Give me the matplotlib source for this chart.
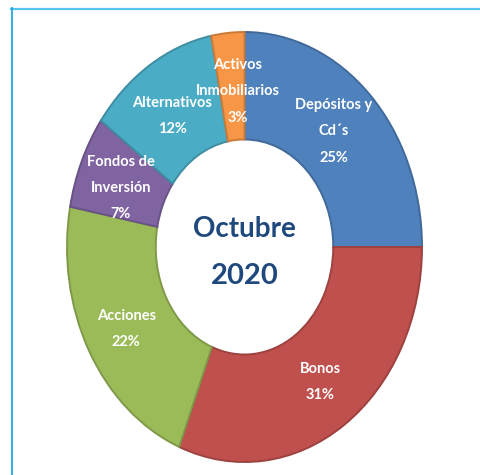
import matplotlib
matplotlib.use('Agg')
import matplotlib.pyplot as plt
from matplotlib.lines import Line2D
import matplotlib.colors as mcolors

# data
categorias = ['Depósitos y\nCd´s', 'Bonos', 'Acciones', 'Fondos de\nInversión',
              'Alternativos', 'Activos\nInmobiliarios']
valores = [25, 31, 22, 7, 12, 3]
colores = ['#4F81BD', '#C0504D', '#9BBB59', '#8064A2', '#4BACC6', '#F79646']
titulo = ['Octubre', '2020']

plt.rcParams['font.family'] = ['Lato', 'DejaVu Sans']

fig = plt.figure(figsize=(4.8, 4.75), dpi=100)
W, H = 480, 475
ax = fig.add_axes([67 / W, 13 / H, 355 / W, 430 / H])

bordes = [tuple(c * 0.82 for c in mcolors.to_rgb(col)) for col in colores]

def etiqueta(pct):
    i = etiqueta.n
    etiqueta.n += 1
    return '%s\n%d%%' % (categorias[i], round(pct))
etiqueta.n = 0

wedges, _, autotexts = ax.pie(valores, colors=colores, startangle=90, counterclock=False,
                              radius=1.0, wedgeprops=dict(width=0.5, linewidth=1.4),
                              autopct=etiqueta, pctdistance=0.76,
                              textprops=dict(color='white', fontsize=10.5, fontweight='bold',
                                             linespacing=2.1))
for w, b in zip(wedges, bordes):
    w.set_edgecolor(b)

# small nudges of the labels
ajustes = [(-0.034, 0), (0, 0), (0, -0.014), (0, -0.028), (0, -0.033), (0.034, -0.033)]
for t, (dx, dy) in zip(autotexts, ajustes):
    x, y = t.get_position()
    t.set_position((x + dx, y + dy))

ax.set_aspect('auto')
ax.set_xlim(-1, 1)
ax.set_ylim(-1, 1)
ax.axis('off')

ax.text(0, 0.085, titulo[0], ha='center', va='center', fontsize=20,
        fontweight='bold', color='#1F497D')
ax.text(0, -0.135, titulo[1], ha='center', va='center', fontsize=21,
        fontweight='bold', color='#1F497D')

# marco
fig.add_artist(Line2D([11 / W, 1], [1 - 8.5 / H, 1 - 8.5 / H], color='#55C5F0', lw=1.6,
                      transform=fig.transFigure))
fig.add_artist(Line2D([11.5 / W, 11.5 / W], [0, 1 - 8 / H], color='#22A8E4', lw=1.3,
                      transform=fig.transFigure))

fig.savefig('out.png', dpi=100)
